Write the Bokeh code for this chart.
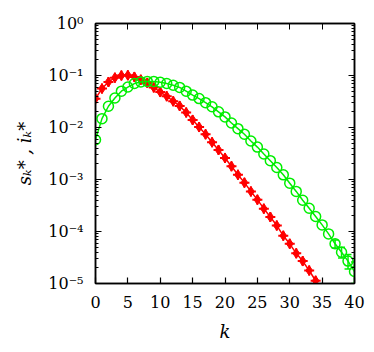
from bokeh.plotting import figure
from bokeh.models import (LinearAxis, LogAxis, FixedTicker, LogTicker, CustomJSTickFormatter,
                          Range1d, Whisker, TeeHead, ColumnDataSource)
from bokeh.embed import file_html
from bokeh.resources import INLINE

# data
k_s = list(range(0, 35))
s_vals = [0.0359, 0.056, 0.075, 0.091, 0.100, 0.101, 0.094, 0.083, 0.072, 0.059,
          0.048, 0.040, 0.032, 0.026, 0.0195, 0.0140, 0.0102, 0.0074, 0.0052, 0.0037,
          0.0026, 0.0018, 0.00123, 8.7e-4, 5.9e-4, 4.1e-4, 2.75e-4, 1.9e-4, 1.3e-4, 8.3e-5,
          5.8e-5, 3.8e-5, 2.7e-5, 1.78e-5, 1.13e-5]

k_i = list(range(0, 41))
i_vals = [0.0058, 0.0148, 0.0256, 0.037, 0.050, 0.060, 0.070, 0.075, 0.077, 0.077,
          0.074, 0.070, 0.065, 0.059, 0.050, 0.042, 0.036, 0.030, 0.025, 0.020,
          0.016, 0.0122, 0.0095, 0.0074, 0.0055, 0.0042, 0.0031, 0.0023, 0.0017, 0.00123,
          8.5e-4, 5.9e-4, 4.0e-4, 2.8e-4, 1.94e-4, 1.34e-4, 9.0e-5, 5.8e-5, 4.0e-5, 2.7e-5,
          1.7e-5]

# error bars visible at the tail of the green series
k_err = [37, 38, 39, 40]
i_err_lo = [4.8e-5, 3.1e-5, 1.9e-5, 1.0e-5]
i_err_hi = [6.9e-5, 5.0e-5, 3.6e-5, 2.6e-5]

x_ticks = [0, 5, 10, 15, 20, 25, 30, 35, 40]

RED = "#ff0000"
GREEN = "#00ee00"
FONT = "DejaVu Serif"

p = figure(width=366, height=344, output_backend="svg", toolbar_location=None,
           y_axis_type="log", x_range=Range1d(0, 40), y_range=Range1d(1e-5, 1),
           min_border_left=95, min_border_right=12, min_border_top=23, min_border_bottom=61,
           x_axis_label="k", y_axis_label="s\u2096* , i\u2096*")
p.frame_width = 259
p.frame_height = 260
p.grid.visible = False
p.outline_line_color = "black"
p.outline_line_width = 1.5
p.background_fill_color = "white"
p.border_fill_color = "white"

fmt = CustomJSTickFormatter(code="""
const e = Math.round(Math.log10(tick));
const sup = {'-':'\u207b','0':'\u2070','1':'\u00b9','2':'\u00b2','3':'\u00b3','4':'\u2074','5':'\u2075'};
return '10' + String(e).split('').map(c => sup[c]).join('');
""")
blank = CustomJSTickFormatter(code="return '';")

for ax in p.xaxis:
    ax.ticker = FixedTicker(ticks=x_ticks)
for ax in p.yaxis:
    ax.ticker = LogTicker(num_minor_ticks=10)
    ax.formatter = fmt

for ax in list(p.xaxis) + list(p.yaxis):
    ax.major_tick_in = 6
    ax.major_tick_out = 0
    ax.minor_tick_in = 3
    ax.minor_tick_out = 0
    ax.axis_line_width = 1.5
    ax.major_tick_line_width = 1.2
    ax.major_label_text_font = FONT
    ax.major_label_text_font_size = "16px"
    ax.major_label_text_color = "black"
    ax.major_label_standoff = 12
    ax.axis_label_text_font = FONT
    ax.axis_label_text_font_size = "18px"
    ax.axis_label_text_font_style = "italic"
    ax.axis_label_text_color = "black"
    ax.axis_label_standoff = 10
p.xaxis.minor_tick_line_color = None

top = LinearAxis(ticker=FixedTicker(ticks=x_ticks), formatter=blank,
                 major_tick_in=6, major_tick_out=0, minor_tick_line_color=None,
                 axis_line_width=1.5, major_label_standoff=0)
right = LogAxis(ticker=LogTicker(num_minor_ticks=10), formatter=blank,
                major_tick_in=6, major_tick_out=0, minor_tick_in=3, minor_tick_out=0,
                axis_line_width=1.5, major_label_standoff=0)
p.add_layout(top, "above")
p.add_layout(right, "right")

# red series
p.line(k_s, s_vals, line_color=RED, line_width=1.5)
p.scatter(k_s, s_vals, marker="diamond", size=10, fill_color=RED, line_color=RED)
p.scatter(k_s, s_vals, marker="cross", size=10, line_color=RED, line_width=2)

# green series
p.line(k_i, i_vals, line_color=GREEN, line_width=1.5)
p.scatter(k_i, i_vals, marker="circle", size=10, fill_color=None, line_color=GREEN, line_width=1.5)
err_src = ColumnDataSource(data=dict(k=k_err, lo=i_err_lo, hi=i_err_hi))
p.add_layout(Whisker(base="k", lower="lo", upper="hi", source=err_src,
                     line_color=GREEN, line_width=1.5,
                     upper_head=TeeHead(size=7, line_color=GREEN, line_width=1.5),
                     lower_head=TeeHead(size=7, line_color=GREEN, line_width=1.5)))

open("out.html", "w").write(file_html(p, INLINE))
